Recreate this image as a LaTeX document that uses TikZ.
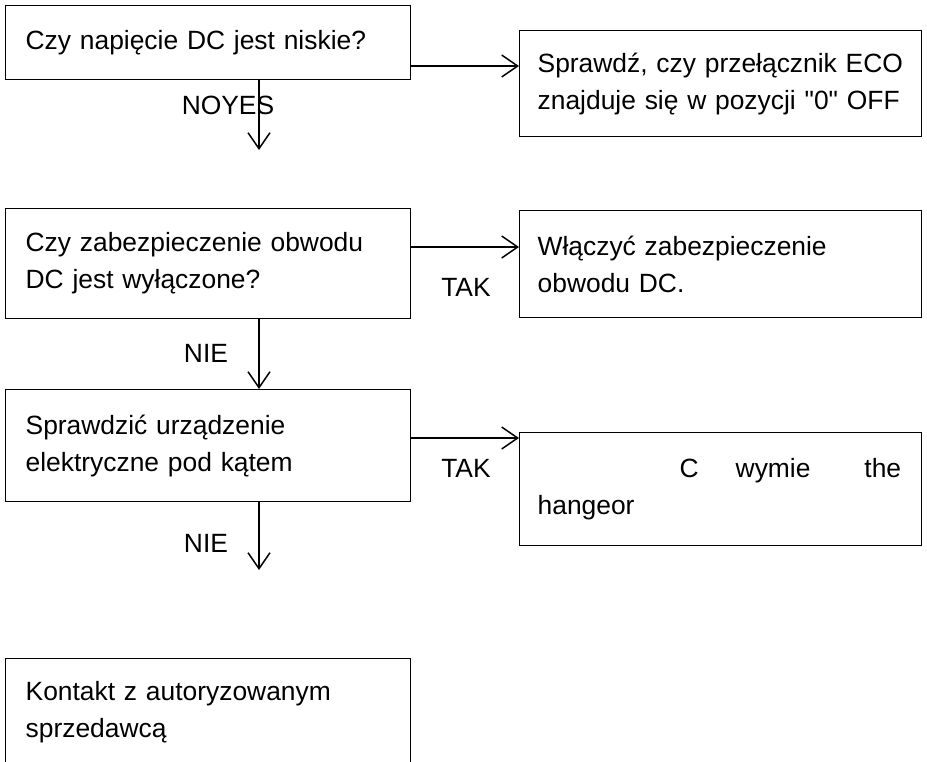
\documentclass[tikz,border=0pt]{standalone}
\usepackage{fontspec}
\setmainfont{Liberation Sans}
\newfontfamily\plainsans{Liberation Sans}[Ligatures=TeXOff]
\usetikzlibrary{arrows.meta, positioning}

\begin{document}
\begin{tikzpicture}[
    x=1pt, y=-1pt,
    qbox/.style={
      draw=black,
      line width=1.3pt,
      anchor=north west,
      inner sep=0pt,
      minimum width=405pt,
      text width=365pt,
      align=left,
      font=\fontsize{26.4}{37}\selectfont,
    },
    abox/.style={qbox, minimum width=402pt, text width=366pt},
    lbl/.style={font=\fontsize{26.4}{37}\selectfont},
    arr/.style={-{Straight Barb[length=16pt, width=22pt]}, line width=1.5pt},
  ]
  \useasboundingbox (0,0) rectangle (927,761);
  \clip (0,0) rectangle (927,761);

  \node[qbox, minimum height=74pt] (q1) at (5,5) {Czy napięcie DC jest niskie?};
  \node[abox, minimum height=106pt] (a1) at (519,30) {Sprawdź, czy przełącznik ECO\\znajduje się w pozycji {\plainsans"0"} OFF};
  \node[qbox, minimum height=110pt] (q2) at (5,208) {Czy zabezpieczenie obwodu\\DC jest wyłączone?};
  \node[abox, minimum height=107pt] (a2) at (519,210) {Włączyć zabezpieczenie\\obwodu DC.};
  \node[qbox, minimum height=112pt] (q3) at (5,389) {Sprawdzić urządzenie\\elektryczne pod kątem};
  \node[abox, minimum height=113pt] (a3) at (519,432) {\hspace*{142pt}C\hspace{37pt}wymie\hspace{54pt}the\\hangeor};
  \node[qbox, minimum height=108pt] (q4) at (5,658) {Kontakt z autoryzowanym\\sprzedawcą};

  \node[lbl] (noyes) at (228,105) {NOYES};
  \node[lbl] (nie1) at (206,353) {NIE};
  \node[lbl] (tak1) at (466,287) {TAK};
  \node[lbl] (tak2) at (466,468) {TAK};
  \node[lbl] (nie2) at (206,543) {NIE};

  \coordinate (y1) at (0,66);
  \coordinate (y2) at (0,247);
  \coordinate (y3) at (0,438);
  \coordinate (d1) at (259,150);
  \coordinate (d3) at (259,570);

  \draw[arr] (q1.east |- y1) -- (a1.west |- y1);
  \draw[arr] (q1.south -| d1) -- (d1);
  \draw[arr] (q2.east |- y2) -- (a2.west |- y2);
  \draw[arr] (q2.south -| d1) -- (q3.north -| d1);
  \draw[arr] (q3.east |- y3) -- (a3.west |- y3);
  \draw[arr] (q3.south -| d1) -- (d3);
\end{tikzpicture}
\end{document}
